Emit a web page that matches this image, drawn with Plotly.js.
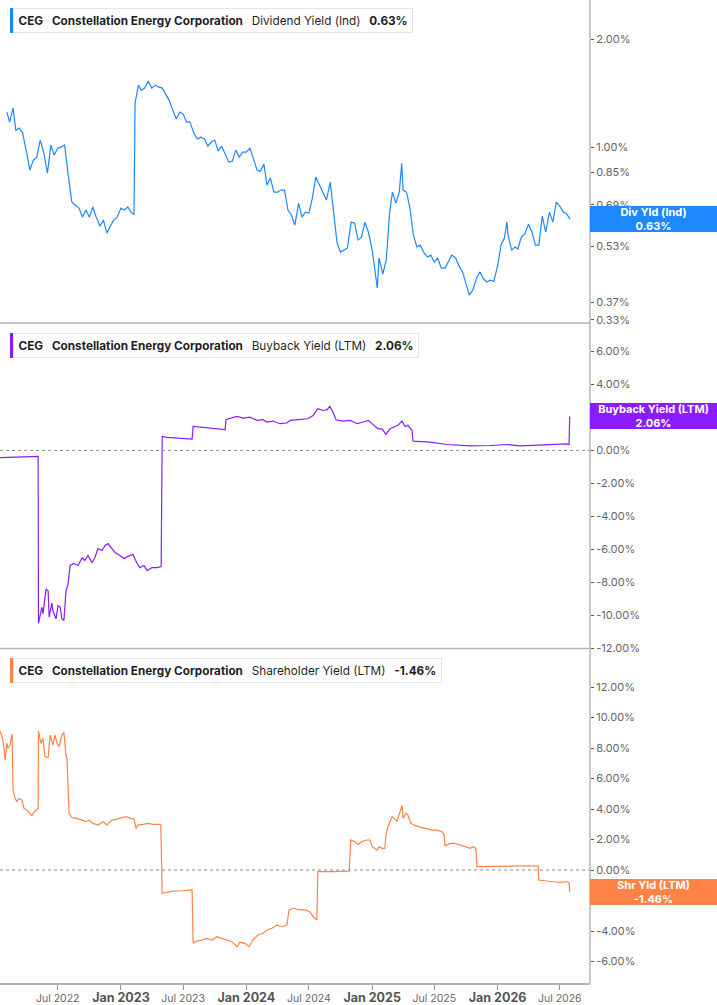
<!DOCTYPE html>
<html>
<head>
<meta charset="utf-8">
<script src="https://cdn.plot.ly/plotly-3.0.1.min.js"></script>
<style>
  html, body { margin: 0; padding: 0; background: #fff; }
  #grafico { width: 717px; height: 1005px; }
</style>
</head>
<body>
<div id="grafico"></div>
<script>
// Dividend Yield (Ind) - valores em %
const divDates = [
  '2022-02-03','2022-02-11','2022-02-21','2022-03-01','2022-03-11','2022-03-21','2022-04-01','2022-04-11','2022-04-21',
  '2022-05-01','2022-05-11','2022-05-21','2022-06-01','2022-06-11','2022-06-21','2022-07-01','2022-07-11','2022-07-21',
  '2022-08-01','2022-08-11','2022-08-21','2022-09-01','2022-09-11','2022-09-21','2022-10-01','2022-10-11','2022-10-21',
  '2022-11-01','2022-11-11','2022-11-21','2022-12-01','2022-12-11','2022-12-21',
  '2023-01-01','2023-01-11','2023-01-21','2023-02-01','2023-02-08','2023-02-11','2023-02-21','2023-03-01','2023-03-11',
  '2023-03-21','2023-04-01','2023-04-11','2023-04-21','2023-05-01','2023-05-11','2023-05-21','2023-06-01','2023-06-11',
  '2023-06-21','2023-07-01','2023-07-11','2023-07-21','2023-08-01','2023-08-11','2023-08-21','2023-09-01','2023-09-11',
  '2023-09-21','2023-10-01','2023-10-11','2023-10-21','2023-11-01','2023-11-11','2023-11-21','2023-12-01','2023-12-11','2023-12-21',
  '2024-01-01','2024-01-11','2024-01-21','2024-02-01','2024-02-11','2024-02-21','2024-03-01','2024-03-11','2024-03-21',
  '2024-04-01','2024-04-11','2024-04-21','2024-05-01','2024-05-11','2024-05-21','2024-06-01','2024-06-11','2024-06-21',
  '2024-07-01','2024-07-11','2024-07-21','2024-08-01','2024-08-11','2024-08-21','2024-09-01','2024-09-11','2024-09-21',
  '2024-10-01','2024-10-11','2024-10-21','2024-11-01','2024-11-11','2024-11-21','2024-12-01','2024-12-11','2024-12-21',
  '2025-01-01','2025-01-11','2025-01-16','2025-01-21','2025-02-01','2025-02-11','2025-02-21','2025-03-01','2025-03-11',
  '2025-03-21','2025-03-28','2025-04-01','2025-04-11','2025-04-21','2025-05-01','2025-05-11','2025-05-21','2025-06-01',
  '2025-06-11','2025-06-21','2025-07-01','2025-07-11','2025-07-21','2025-08-01','2025-08-11','2025-08-21','2025-09-01',
  '2025-09-11','2025-09-21','2025-10-01','2025-10-11','2025-10-21','2025-11-01','2025-11-11','2025-11-21','2025-12-01',
  '2025-12-11','2025-12-21',
  '2026-01-01','2026-01-11','2026-01-21','2026-01-28','2026-02-01','2026-02-11','2026-02-21','2026-03-01','2026-03-11',
  '2026-03-21','2026-04-01','2026-04-11','2026-04-21','2026-05-01','2026-05-11','2026-05-21','2026-06-01','2026-06-11',
  '2026-06-21','2026-07-01','2026-07-11','2026-07-21','2026-07-31'
];
const divValues = [
  1.252,1.174,1.284,1.115,1.130,1.094,0.968,0.863,0.920,
  0.938,1.046,0.968,0.846,1.013,0.950,0.994,1.000,1.013,
  0.830,0.703,0.689,0.676,0.638,0.668,0.638,0.681,0.638,
  0.602,0.626,0.576,0.602,0.626,0.638,
  0.676,0.668,0.681,0.655,0.651,1.326,1.488,1.441,1.460,
  1.527,1.460,1.488,1.469,1.460,1.405,1.352,1.268,1.197,
  1.252,1.236,1.174,1.174,1.094,1.053,1.066,1.053,1.006,
  1.033,1.046,0.975,1.006,0.950,0.908,0.914,0.981,0.938,0.968,
  0.968,0.994,0.932,0.863,0.857,0.897,0.784,0.820,0.749,
  0.749,0.759,0.759,0.668,0.647,0.606,0.698,0.638,0.659,
  0.655,0.721,0.825,0.784,0.745,0.712,0.799,0.668,0.540,
  0.510,0.517,0.523,0.618,0.614,0.551,0.561,0.618,0.580,
  0.517,0.440,0.405,0.491,0.443,0.484,0.659,0.749,0.698,
  0.749,0.902,0.759,0.749,0.676,0.569,0.527,0.533,0.507,
  0.494,0.500,0.478,0.491,0.460,0.460,0.478,0.500,0.491,
  0.466,0.449,0.413,0.387,0.400,0.432,0.449,0.429,0.421,
  0.426,0.423,
  0.466,0.533,0.558,0.618,0.565,0.517,0.527,0.520,0.561,
  0.572,0.610,0.580,0.533,0.533,0.642,0.580,0.659,0.618,
  0.703,0.685,0.659,0.651,0.630
];

// Buyback Yield (LTM) - valores em %
const bbDates = [
  '2022-01-14','2022-03-10','2022-05-05','2022-05-06','2022-05-16','2022-05-19','2022-05-28','2022-06-03','2022-06-06',
  '2022-06-14','2022-06-17','2022-06-26','2022-07-02','2022-07-08','2022-07-13','2022-07-19','2022-07-25','2022-07-31',
  '2022-08-06','2022-08-17','2022-08-29','2022-09-10','2022-09-18','2022-09-27','2022-10-09','2022-10-17','2022-10-26',
  '2022-11-07','2022-11-16','2022-11-24','2022-12-06','2022-12-15','2022-12-29',
  '2023-01-10','2023-01-21','2023-02-05','2023-02-17','2023-02-25','2023-03-09','2023-03-18','2023-04-01','2023-04-16',
  '2023-04-28','2023-05-01','2023-05-15','2023-06-22','2023-07-27','2023-07-30','2023-08-19','2023-09-26','2023-10-16',
  '2023-10-31','2023-11-03','2023-11-14','2023-12-05','2023-12-22',
  '2024-01-11','2024-02-01','2024-02-18','2024-03-01','2024-03-18','2024-04-08','2024-04-28','2024-05-07','2024-05-27',
  '2024-06-14','2024-06-28','2024-07-13','2024-07-27','2024-08-11','2024-08-23','2024-08-31','2024-09-09','2024-09-18',
  '2024-10-08','2024-10-29','2024-11-19','2024-12-06','2024-12-21',
  '2025-01-03','2025-01-18','2025-01-30','2025-02-10','2025-02-22','2025-03-03','2025-03-17','2025-03-29','2025-04-07',
  '2025-04-15','2025-04-27','2025-04-30','2025-06-18','2025-08-07','2025-10-13','2025-12-10',
  '2026-01-28','2026-03-07','2026-05-25','2026-07-22','2026-07-28','2026-07-30'
];
const bbValues = [
  -0.44,-0.40,-0.36,-10.47,-9.5,-9.9,-8.4,-8.5,-10.1,
  -9.25,-9.7,-10.2,-9.4,-9.5,-10.2,-10.3,-8.5,-8.1,
  -6.97,-6.85,-6.97,-6.5,-6.67,-6.36,-6.8,-6.5,-5.94,
  -6.06,-5.76,-5.64,-5.94,-6.18,-6.36,
  -6.55,-6.42,-6.3,-6.85,-7.1,-6.97,-7.27,-7.1,-7.1,
  -7.03,0.85,0.79,0.73,0.68,1.45,1.41,1.35,1.29,
  1.27,1.88,1.94,2.06,1.96,
  2.02,1.82,1.86,1.72,1.78,1.62,1.66,1.82,1.86,
  1.86,1.92,2.12,2.53,2.42,2.47,2.67,2.32,1.86,
  1.78,1.82,1.62,1.72,1.82,
  1.58,1.31,1.31,0.97,1.31,1.41,1.52,1.78,1.45,
  1.52,1.21,0.56,0.50,0.36,0.28,0.30,
  0.36,0.28,0.36,0.40,0.36,2.06
];

// Shareholder Yield (LTM) - valores em %
const shDates = [
  '2022-01-14','2022-01-20','2022-01-23','2022-01-29','2022-02-03','2022-02-06','2022-02-12','2022-02-18','2022-02-21',
  '2022-02-27','2022-03-04','2022-03-10','2022-03-19','2022-03-25','2022-04-03','2022-04-08','2022-04-17','2022-04-26',
  '2022-05-05','2022-05-06','2022-05-13','2022-05-19','2022-05-25','2022-06-03','2022-06-09','2022-06-17','2022-06-23',
  '2022-06-29','2022-07-05','2022-07-13','2022-07-19','2022-07-25','2022-07-28','2022-08-03','2022-08-12','2022-08-26',
  '2022-09-10','2022-09-21','2022-09-30','2022-10-12','2022-10-26','2022-11-10','2022-11-21','2022-12-06','2022-12-20',
  '2023-01-04','2023-01-16','2023-01-30','2023-02-08','2023-02-14','2023-02-20','2023-03-06','2023-03-21','2023-04-04',
  '2023-04-27','2023-05-01','2023-05-15','2023-06-01','2023-06-28','2023-07-27','2023-07-30','2023-08-10','2023-08-25',
  '2023-09-08','2023-09-23','2023-10-07','2023-10-22','2023-11-06','2023-11-20','2023-12-05','2023-12-13','2023-12-28',
  '2024-01-09','2024-01-20','2024-02-04','2024-02-18','2024-03-01','2024-03-16','2024-03-30','2024-04-14','2024-04-28',
  '2024-05-04','2024-05-16','2024-06-05','2024-06-20','2024-07-04','2024-07-13','2024-07-24','2024-07-27','2024-09-09',
  '2024-10-26','2024-10-31','2024-11-12','2024-11-21','2024-12-02','2024-12-17','2024-12-26',
  '2025-01-01','2025-01-09','2025-01-15','2025-01-21','2025-01-30','2025-02-07','2025-02-10','2025-02-16','2025-02-22',
  '2025-02-28','2025-03-06','2025-03-14','2025-03-20','2025-03-29','2025-04-01','2025-04-09','2025-04-15','2025-04-24',
  '2025-05-06','2025-05-20','2025-05-29','2025-06-10','2025-06-24','2025-07-09','2025-07-23','2025-07-29','2025-08-01',
  '2025-08-16','2025-08-30','2025-09-14','2025-09-28','2025-10-13','2025-10-21','2025-10-30','2025-11-02','2025-12-10',
  '2026-02-15','2026-03-28','2026-04-29','2026-05-01','2026-05-19','2026-06-11','2026-07-02','2026-07-22','2026-07-28',
  '2026-07-30'
];
const shValues = [
  9.11,8.74,8.41,7.21,8.33,8.0,8.2,8.92,5.25,
  4.70,4.48,4.70,4.59,4.04,3.93,3.82,3.56,3.87,
  4.04,9.11,8.31,8.64,7.43,7.36,8.85,8.20,8.85,
  8.31,8.09,8.85,9.03,7.54,7.32,3.72,3.43,3.39,
  3.28,3.17,3.28,3.06,2.95,3.17,2.95,3.28,3.34,
  3.45,3.50,3.39,3.34,2.73,2.95,2.99,3.06,2.99,
  2.99,-1.53,-1.46,-1.38,-1.36,-1.31,-4.81,-4.66,-4.59,
  -4.48,-4.59,-4.37,-4.48,-4.59,-4.70,-5.03,-4.74,-4.81,
  -5.03,-4.59,-4.26,-4.15,-3.93,-3.82,-3.61,-3.72,-3.61,
  -2.62,-2.51,-2.62,-2.62,-2.73,-3.06,-3.28,-0.11,-0.11,
  -0.07,1.97,1.86,1.68,1.86,1.97,1.97,
  1.53,1.42,1.31,1.53,1.42,1.42,2.30,2.84,3.17,
  3.50,3.39,3.21,3.61,4.22,3.39,3.72,3.61,3.06,
  2.91,2.84,2.77,2.69,2.62,2.62,2.51,2.34,1.59,
  1.75,1.75,1.64,1.53,1.42,1.53,1.42,0.22,0.22,
  0.26,0.28,0.26,-0.66,-0.72,-0.77,-0.81,-0.77,-0.81,
  -1.46
];

// eixos
const divTickVals = [0.33, 0.37, 0.53, 0.69, 0.85, 1, 2];
const divTickText = ['0.33%', '0.37%', '0.53%', '0.69%', '0.85%', '1.00%', '2.00%'];
const bbTickVals = [-12, -10, -8, -6, -4, -2, 0, 2, 4, 6];
const bbTickText = ['-12.00%', '-10.00%', '-8.00%', '-6.00%', '-4.00%', '-2.00%', '0.00%', '2.00%', '4.00%', '6.00%'];
const shTickVals = [-6, -4, -2, 0, 2, 4, 6, 8, 10, 12];
const shTickText = ['-6.00%', '-4.00%', '-2.00%', '0.00%', '2.00%', '4.00%', '6.00%', '8.00%', '10.00%', '12.00%'];
const xTickVals = ['2022-07-01', '2023-01-01', '2023-07-01', '2024-01-01', '2024-07-01', '2025-01-01', '2025-07-01', '2026-01-01', '2026-07-01'];
const xTickText = ['Jul 2022', 'Jan 2023', 'Jul 2023', 'Jan 2024', 'Jul 2024', 'Jan 2025', 'Jul 2025', 'Jan 2026', 'Jul 2026'];

const AZUL = '#1e88ff', ROXO = '#8b1cff', LARANJA = '#ff8346';
const FONTE = 'Inter, "Noto Sans", sans-serif';

const W = 717, H = 1005, MR = 127, MB = 22;
const plotW = W - MR;   // 590
const plotH = H - MB;   // 983
const py = p => 1 - p / plotH;   // pixel (topo) -> paper
const pxX = p => p / plotW;

const traces = [
  { x: divDates, y: divValues, xaxis: 'x', yaxis: 'y', type: 'scatter', mode: 'lines', line: { color: AZUL, width: 1.2 }, hoverinfo: 'skip' },
  { x: bbDates, y: bbValues, xaxis: 'x', yaxis: 'y2', type: 'scatter', mode: 'lines', line: { color: ROXO, width: 1.2 }, hoverinfo: 'skip' },
  { x: shDates, y: shValues, xaxis: 'x', yaxis: 'y3', type: 'scatter', mode: 'lines', line: { color: LARANJA, width: 1.2 }, hoverinfo: 'skip' }
];

const yBase = {
  anchor: 'x', side: 'right', showgrid: false, zeroline: false, showline: false,
  ticks: 'outside', ticklen: 3, tickwidth: 1, tickcolor: '#555',
  tickfont: { family: FONTE, size: 11, color: '#666' }, fixedrange: true
};

// legendas no topo de cada painel
function legenda(topPx, serie, valor, cor) {
  const sp = '&#160;&#160;&#8201;';
  return {
    ann: {
      xref: 'paper', yref: 'paper', x: pxX(13), y: py(topPx + 20.5), xanchor: 'left', yanchor: 'middle',
      text: '<b>CEG</b>' + sp + '<b>Constellation Energy Corporation</b>' + sp + serie + sp + '<b>' + valor + '</b>',
      showarrow: false, bgcolor: '#fff', bordercolor: '#e4e4e4', borderwidth: 1, borderpad: 4.5,
      font: { family: FONTE, size: 11.75, color: '#1f1f1f' }
    },
    shape: {
      type: 'rect', xref: 'paper', yref: 'paper', x0: pxX(10), x1: pxX(13.5),
      y0: py(topPx + 33), y1: py(topPx + 8), fillcolor: cor, line: { width: 0 }, layer: 'above'
    }
  };
}

// caixinha do ultimo valor no eixo direito
function rotulo(yref, y, texto, cor) {
  return {
    xref: 'paper', yref: yref, x: 1, y: y, xanchor: 'left', yanchor: 'middle',
    text: texto, showarrow: false, bgcolor: cor, borderpad: 0, borderwidth: 0,
    width: 127, height: 26, align: 'center',
    font: { family: FONTE, size: 11, color: '#fff' }
  };
}

const leg1 = legenda(0, 'Dividend Yield (Ind)', '0.63%', AZUL);
const leg2 = legenda(325, 'Buyback Yield (LTM)', '2.06%', ROXO);
const leg3 = legenda(650, 'Shareholder Yield (LTM)', '-1.46%', LARANJA);

const linhaCinza = { color: '#b4b4b4', width: 1.5 };

const layout = {
  width: W, height: H,
  margin: { l: 0, r: MR, t: 0, b: MB, pad: 0 },
  paper_bgcolor: '#fff', plot_bgcolor: '#fff',
  showlegend: false, hovermode: false,
  font: { family: FONTE },
  xaxis: {
    type: 'date', anchor: 'y3', domain: [0, 1],
    range: ['2022-01-14', '2026-09-27'],
    showgrid: false, zeroline: false, showline: true, linecolor: '#b4b4b4', linewidth: 1.5,
    ticks: 'outside', ticklen: 5, tickcolor: '#999',
    tickvals: xTickVals,
    ticktext: xTickText.map(t => t.startsWith('Jan') ? '<b><span style="font-size:12.5px;fill:#555">' + t + '</span></b>' : t),
    tickfont: { family: FONTE, size: 10.5, color: '#666' }, fixedrange: true
  },
  yaxis: Object.assign({}, yBase, {
    type: 'log', domain: [py(323), 1],
    range: [Math.log10(0.3235), Math.log10(2.57)],
    tickvals: divTickVals, ticktext: divTickText
  }),
  yaxis2: Object.assign({}, yBase, {
    domain: [py(648.5), py(325)], range: [-12, 7.6],
    tickvals: bbTickVals, ticktext: bbTickText
  }),
  yaxis3: Object.assign({}, yBase, {
    domain: [0, py(650)], range: [-7.41, 14.43],
    tickvals: shTickVals, ticktext: shTickText
  }),
  shapes: [
    { type: 'line', xref: 'paper', yref: 'paper', x0: 0, x1: 1, y0: py(323), y1: py(323), line: linhaCinza },
    { type: 'line', xref: 'paper', yref: 'paper', x0: 0, x1: 1, y0: py(648.5), y1: py(648.5), line: linhaCinza },
    { type: 'line', xref: 'paper', yref: 'paper', x0: 1, x1: 1, y0: 0, y1: 1, line: linhaCinza },
    { type: 'line', xref: 'paper', yref: 'y2', x0: 0, x1: 1, y0: 0, y1: 0, line: { color: '#8c8c8c', width: 1, dash: 'dot' } },
    { type: 'line', xref: 'paper', yref: 'y3', x0: 0, x1: 1, y0: 0, y1: 0, line: { color: '#8c8c8c', width: 1, dash: 'dot' } },
    leg1.shape, leg2.shape, leg3.shape
  ],
  annotations: [
    leg1.ann, leg2.ann, leg3.ann,
    rotulo('y', Math.log10(0.63), '<b>Div Yld (Ind)</b><br><b>0.63%</b>', AZUL),
    rotulo('y2', 2.06, '<b>Buyback Yield (LTM)</b><br><b>2.06%</b>', ROXO),
    rotulo('y3', -1.46, '<b>Shr Yld (LTM)</b><br><b>-1.46%</b>', LARANJA)
  ]
};

Plotly.newPlot('grafico', traces, layout, { staticPlot: true, displayModeBar: false });
</script>
</body>
</html>
